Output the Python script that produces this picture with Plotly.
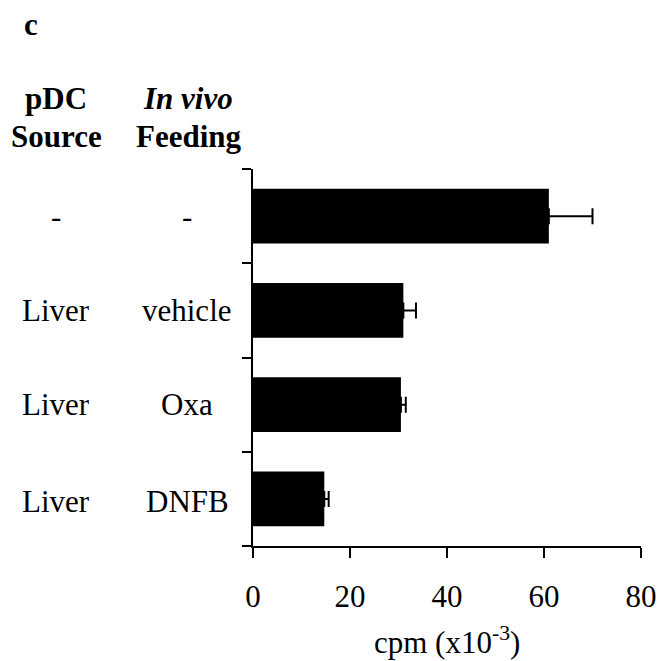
import plotly.graph_objects as go

# Proliferation readout per condition (cpm x10^-3), top row first
sources = ["-", "Liver", "Liver", "Liver"]
feedings = ["-", "vehicle", "Oxa", "DNFB"]
cpm = [61.0, 31.0, 30.5, 14.7]
cpm_err = [9.0, 2.6, 1.0, 0.9]
x_ticks = [0, 20, 40, 60, 80]
x_title = "cpm (x10<sup>-3</sup>)"

FONT = "Liberation Serif, Times New Roman, serif"
SIZE = 31
rows = list(range(len(cpm)))

fig = go.Figure(
    go.Bar(
        x=cpm,
        y=rows,
        orientation="h",
        width=0.58,
        marker=dict(color="black", line=dict(width=0)),
        error_x=dict(
            type="data",
            symmetric=False,
            array=cpm_err,
            arrayminus=[0] * len(cpm_err),
            color="black",
            thickness=2,
            width=8,
        ),
        showlegend=False,
    )
)

# panel geometry helpers (plot area spans 388 x 377 px)
L, T, W, H = 253, 169, 388, 377


def px_x(px):
    return (px - L) / W


def px_y(py):
    return (T + H - py) / H


def label(x, y, text, xref="paper", yref="paper", yshift=0):
    return dict(x=x, xref=xref, y=y, yref=yref, text=text, showarrow=False,
                xanchor="center", yanchor="middle", yshift=yshift,
                font=dict(family=FONT, size=SIZE, color="black"))


annotations = []
for i, (s, f) in enumerate(zip(sources, feedings)):
    shift = -3 if i == len(rows) - 1 else 0
    annotations.append(label(px_x(56), i, s, yref="y", yshift=shift))
    annotations.append(label(px_x(187), i, f, yref="y", yshift=shift))

headers = [
    (56, 99, "<b>pDC</b>"),
    (56, 136, "<b>Source</b>"),
    (188, 99, "<b><i>In vivo</i></b>"),
    (189, 136, "<b>Feeding</b>"),
    (31, 24, "<b>c</b>"),
    (447, 640, x_title),
]
for hx, hy, txt in headers:
    annotations.append(label(px_x(hx), px_y(hy), txt))

fig.update_layout(
    width=661,
    height=661,
    margin=dict(l=L, r=661 - L - W, t=T, b=661 - T - H, pad=0),
    paper_bgcolor="white",
    plot_bgcolor="white",
    font=dict(family=FONT, size=SIZE, color="black"),
    annotations=annotations,
    xaxis=dict(
        range=[0, 80],
        tickvals=x_ticks,
        ticktext=[str(v) for v in x_ticks],
        showgrid=False,
        zeroline=False,
        showline=True,
        linecolor="black",
        linewidth=2,
        ticks="outside",
        ticklen=10,
        tickwidth=2,
        tickcolor="black",
        ticklabelstandoff=12,
        automargin=False,
        tickfont=dict(family=FONT, size=SIZE, color="black"),
    ),
    yaxis=dict(
        range=[len(rows) - 0.5, -0.5],
        tickvals=[r - 0.5 for r in rows] + [len(rows) - 0.5],
        showticklabels=False,
        showgrid=False,
        zeroline=False,
        showline=True,
        linecolor="black",
        linewidth=2,
        ticks="outside",
        ticklen=9,
        tickwidth=2,
        tickcolor="black",
        automargin=False,
    ),
)

fig.write_html("out.html")
